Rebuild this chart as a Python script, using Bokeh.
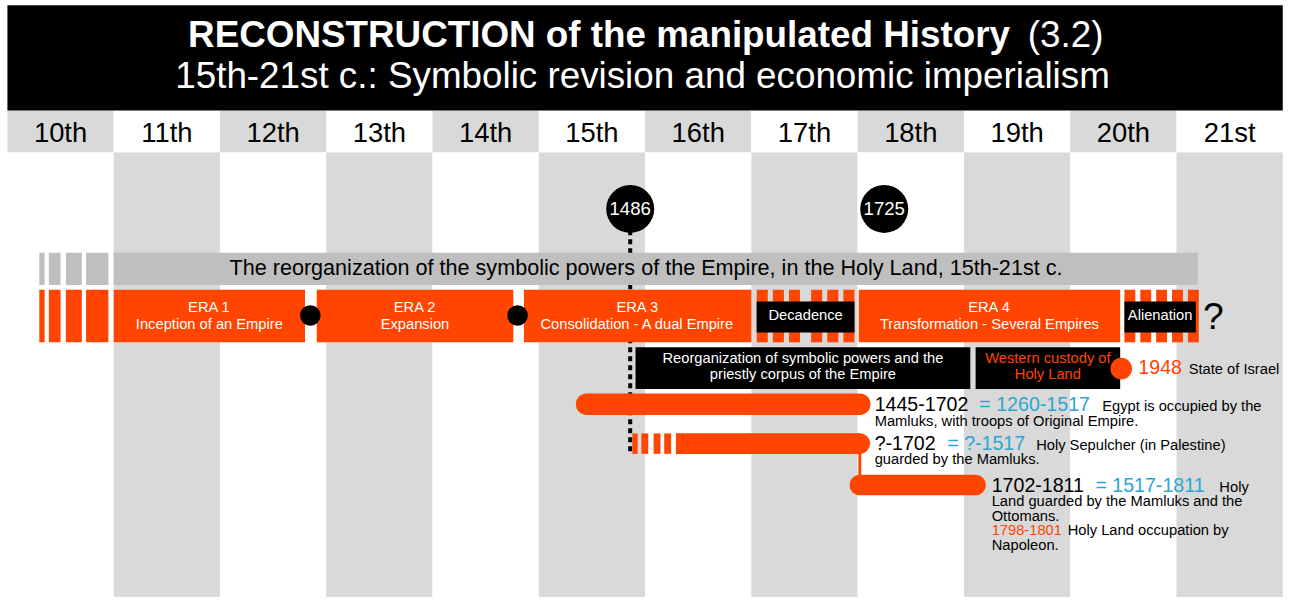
from bokeh.plotting import figure
from bokeh.models import Range1d
from bokeh.core.properties import value
from bokeh.embed import file_html
from bokeh.resources import INLINE

FONT = "Liberation Sans"
ORANGE = "#ff4500"
BLUE = "#2ba6d6"
GRAY_COL = "#d9d9d9"
GRAY_BAND = "#bfbfbf"

# ---------------- data ----------------
centuries = ["10th", "11th", "12th", "13th", "14th", "15th", "16th", "17th", "18th", "19th", "20th", "21st"]
century_start = [900, 1000, 1100, 1200, 1300, 1400, 1500, 1600, 1700, 1800, 1900, 2000]

title_bold = "RECONSTRUCTION of the manipulated History"
title_num = "(3.2)"
subtitle = "15th-21st c.: Symbolic revision and economic imperialism"

band_text = "The reorganization of the symbolic powers of the Empire, in the Holy Land, 15th-21st c."
band_start, band_end = 1000, 2020
lead_in_start = [930, 939, 955, 974]
lead_in_end = [935, 950, 970, 995]

era_labels = ["ERA 1", "ERA 2", "ERA 3", "ERA 4"]
era_subtitles = ["Inception of an Empire", "Expansion", "Consolidation - A dual Empire",
                 "Transformation - Several Empires"]
era_start = [1000, 1191, 1386, 1701]
era_end = [1180, 1376, 1600, 1947]
era_breaks = [1185, 1380]

phase_labels = ["Decadence", "Alienation"]
phase_start = [1605, 1951]
phase_end = [1697, 2021]
phase_groups = [2, 1]
phase_stripes = [3, 5]

milestones = [1486, 1725]

box_texts = [["Reorganization of symbolic powers and the", "priestly corpus of the Empire"],
             ["Western custody of", "Holy Land"]]
box_start = [1491, 1811]
box_end = [1806, 1947]
box_colors = ["white", ORANGE]

israel_year = 1948
israel_text = "State of Israel"

bar_labels = ["1445-1702", "?-1702", "1702-1811"]
bar_equiv = ["= 1260-1517", "= ?-1517", "= 1517-1811"]
bar_start = [1445, 1529, 1702]
bar_end = [1702, 1702, 1811]
bar_lead_start = [1488, 1496.5, 1508, 1518]
bar_lead_end = [1493, 1503, 1514.5, 1524.5]
bar_desc_first = ["Egypt is occupied by the", "Holy Sepulcher (in Palestine)", "Holy"]
bar_desc_more = [["Mamluks, with troops of Original Empire."],
                 ["guarded by the Mamluks."],
                 ["Land guarded by the Mamluks and the", "Ottomans."]]
napoleon_years = "1798-1801"
napoleon_text = ["Holy Land occupation by", "Napoleon."]


def X(px):
    """reference pixel column -> year position (for text placement)"""
    return 900 + (px - 7) * 100 / 107.6


# ---------------- figure ----------------
W, H = 1288, 597
RW, RH = 1304, 613
S = 0.98  # size scale reference -> figure
p = figure(width=W, height=H, x_range=Range1d(X(0), X(RW)), y_range=Range1d(RH, 0),
           output_backend="svg", toolbar_location=None, x_axis_type=None, y_axis_type=None,
           min_border=0, outline_line_color=None)
p.grid.visible = False
p.background_fill_color = "white"
p.border_fill_color = "white"


def fs(size):
    return value(f"{size * S:.1f}px")


def T(x, y, s, size, color="black", align="left", style="normal"):
    # y given as the text's baseline in reference pixels; drawn centred on the cap height
    p.text(x=[x], y=[y - 0.36 * size], text=[s], text_font=value(FONT), text_font_size=fs(size),
           text_color=color, text_align=align, text_baseline="middle", text_font_style=style)


# century columns
n = len(centuries)
head_cols = [GRAY_COL if i % 2 == 0 else "white" for i in range(n)]
body_cols = ["white" if i % 2 == 0 else GRAY_COL for i in range(n)]
c_left = century_start
c_right = [c + 100 for c in century_start]
p.quad(left=c_left, right=c_right, top=[113] * n, bottom=[156] * n, fill_color=head_cols, line_color=None)
p.quad(left=c_left, right=c_right, top=[156] * n, bottom=[620] * n, fill_color=body_cols, line_color=None)
p.text(x=[c + 50 for c in century_start], y=[135.5] * n, text=centuries, text_font=value(FONT),
       text_font_size=fs(28), text_align="center", text_baseline="middle", text_color="black")

# header
p.quad(left=[900], right=[2100], top=[5], bottom=[113], fill_color="black", line_color=None)
T(X(1022), 48, title_bold, 37.6, "white", "right", "bold")
T(X(1040), 48, title_num, 37.6, "white", "left")
T(X(650), 91, subtitle, 37.6, "white", "center")

# dotted line from 1486
p.segment(x0=[1486], y0=[236], x1=[1486], y1=[467], line_width=4, line_dash="5 4", line_color="black")

# gray band
p.quad(left=[band_start], right=[band_end], top=[259], bottom=[292], fill_color=GRAY_BAND, line_color=None)
p.quad(left=lead_in_start, right=lead_in_end, top=[259] * 4, bottom=[292] * 4, fill_color=GRAY_BAND, line_color=None)
T(X(653.5), 282, band_text, 22, "black", "center")

# era row
p.quad(left=lead_in_start, right=lead_in_end, top=[297] * 4, bottom=[351] * 4, fill_color=ORANGE, line_color=None)
p.quad(left=era_start, right=era_end, top=[297] * 4, bottom=[351] * 4, fill_color=ORANGE, line_color=None)
for lab, sub, s, e in zip(era_labels, era_subtitles, era_start, era_end):
    T((s + e) / 2, 320.5, lab, 15, "white", "center")
    T((s + e) / 2, 338, sub, 15, "white", "center")
p.scatter(x=era_breaks, y=[323.5] * 2, size=21 * S, marker="circle", fill_color="black", line_color=None)

# striped phases
for lab, s, e, g, k_n in zip(phase_labels, phase_start, phase_end, phase_groups, phase_stripes):
    if g > 1:
        unit = (e - s) / (g * k_n * 11 + g * (k_n - 1) * 5 + (g - 1) * 11)
    else:
        unit = (e - s) / (k_n * 11 + (k_n - 1) * 5)
    lefts, rights = [], []
    x = s
    for gi in range(g):
        for k in range(k_n):
            lefts.append(x)
            rights.append(x + 11 * unit)
            x += 16 * unit
        x += 6 * unit
    if g > 1:
        shift = e - rights[-1]
        for k in range(k_n, len(rights)):
            lefts[k] += shift
            rights[k] += shift
    p.quad(left=lefts, right=rights, top=[297] * len(lefts), bottom=[351] * len(lefts),
           fill_color=ORANGE, line_color=None)
    box_r = e if g > 1 else e - 3 * unit
    p.quad(left=[s], right=[box_r], top=[309], bottom=[341], fill_color="black", line_color=None)
    T((s + box_r) / 2, 328.5, lab, 15, "white", "center")
T(X(1228), 338, "?", 38, "black", "center")

# milestones
p.scatter(x=milestones, y=[214] * 2, size=49 * S, marker="circle", fill_color="black", line_color=None)
p.text(x=milestones, y=[214] * 2, text=[str(m) for m in milestones], text_font=value(FONT),
       text_font_size=fs(19), text_align="center", text_baseline="middle", text_color="white")

# black boxes
for lines, s, e, col in zip(box_texts, box_start, box_end, box_colors):
    p.quad(left=[s], right=[e], top=[356], bottom=[399], fill_color="black", line_color=None)
    T((s + e) / 2, 372.5, lines[0], 15, col, "center")
    T((s + e) / 2, 389, lines[1], 15, col, "center")

# 1948 marker
p.scatter(x=[israel_year], y=[378], size=22 * S, marker="circle", fill_color=ORANGE, line_color=None)
T(X(1152), 384, str(israel_year), 20, ORANGE, "left")
T(X(1203), 384, israel_text, 15, "black", "left")

# bars
bar_y = [414.5, 455, 497.5]
p.line(x=[bar_start[0], bar_end[0]], y=[bar_y[0]] * 2, line_width=22 * S, line_cap="round", line_color=ORANGE)
p.line(x=[bar_start[1], bar_end[1]], y=[bar_y[1]] * 2, line_width=21 * S, line_cap="butt", line_color=ORANGE)
p.scatter(x=[bar_end[1]], y=[bar_y[1]], size=21 * S, marker="circle", fill_color=ORANGE, line_color=None)
p.quad(left=bar_lead_start, right=bar_lead_end, top=[444.5] * 4, bottom=[465.5] * 4, fill_color=ORANGE, line_color=None)
p.segment(x0=[bar_end[1]], y0=[460], x1=[bar_end[1]], y1=[492], line_width=3, line_color=ORANGE)
p.line(x=[bar_start[2], bar_end[2]], y=[bar_y[2]] * 2, line_width=21 * S, line_cap="round", line_color=ORANGE)

# bar annotations
ann_x = [[885, 991, 1115.5], [885, 958.5, 1048.5], [1003.5, 1108.5, 1234]]
ann_base = [421.5, 461.5, 505]
ann_step = [15.5, 14.5, 14.7]
for i in range(3):
    ax = ann_x[i]
    T(X(ax[0]), ann_base[i], bar_labels[i], 20, "black")
    T(X(ax[1]), ann_base[i], bar_equiv[i], 20, BLUE)
    T(X(ax[2]), ann_base[i], bar_desc_first[i], 15, "black")
    for j, line in enumerate(bar_desc_more[i]):
        T(X(ax[0]), ann_base[i] + ann_step[i] * (j + 1), line, 15, "black")
T(X(1003.5), 549.5, napoleon_years, 15, ORANGE)
T(X(1080.5), 549.5, napoleon_text[0], 15, "black")
T(X(1003.5), 564, napoleon_text[1], 15, "black")

open("out.html", "w").write(file_html(p, INLINE))
